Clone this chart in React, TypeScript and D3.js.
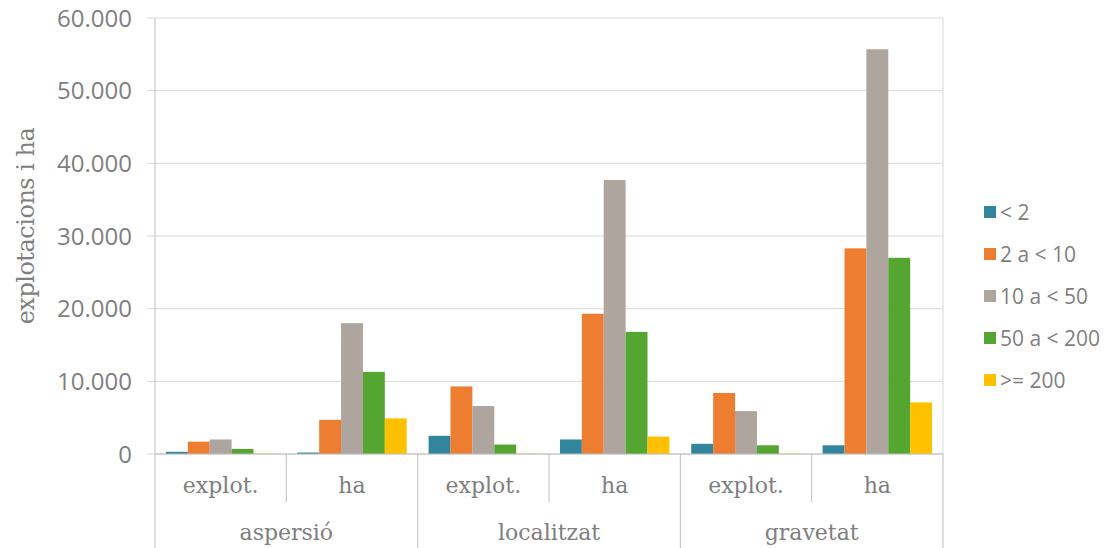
import React from 'react';
import * as d3 from 'd3';

const groups = ['aspersió', 'localitzat', 'gravetat'];
const subs = ['explot.', 'ha'];
const series = ['< 2', '2 a < 10', '10 a < 50', '50 a < 200', '>= 200'];
const colors = ['#31859c', '#ed7d31', '#aea59f', '#55a630', '#ffc000'];

// one value per group/sub pair, in the order of groups x subs
const lt2 = [300, 200, 2500, 2000, 1400, 1200];
const b2to10 = [1700, 4700, 9300, 19300, 8400, 28300];
const b10to50 = [2000, 18000, 6600, 37700, 5900, 55700];
const b50to200 = [700, 11300, 1300, 16800, 1200, 27000];
const ge200 = [50, 4900, 50, 2400, 50, 7100];
const yTicks = [0, 10000, 20000, 30000, 40000, 50000, 60000];

const W = 1116;
const H = 548;
const left = 155;
const right = 943;
const top = 18;
const bottom = 454;
const grey = '#7f7f7f';
const sans = "'Open Sans', Lato, sans-serif";
const serif = "'DejaVu Serif', serif";

const fmt = (v: number) => d3.format(',')(v).replace(/,/g, '.');

const App: React.FC = () => {
  const values = [lt2, b2to10, b10to50, b50to200, ge200];
  const cats = groups.flatMap((g) => subs.map((s) => `${g}|${s}`));
  const x = d3.scaleBand<string>().domain(cats).range([left, right]);
  const xs = d3.scaleBand<string>().domain(series).range([0, x.bandwidth()]).paddingInner(0).paddingOuter(0.5);
  const y = d3.scaleLinear().domain([0, 60000]).range([bottom, top]);
  const gw = x.bandwidth() * 2;

  return (
    <svg width={W} height={H} style={{ position: 'absolute', left: 0, top: 0 }}>
      <rect width={W} height={H} fill="#fff" />
      {yTicks.map((t) => (
        <g key={t}>
          <line x1={left - 8} x2={right} y1={y(t)} y2={y(t)} stroke="#d9d9d9" strokeWidth={1} />
          <text x={132} y={y(t)} dy="0.36em" textAnchor="end" fontFamily={sans} fontSize={24} fill={grey}>
            {fmt(t)}
          </text>
        </g>
      ))}
      <line x1={right} x2={right} y1={top} y2={bottom} stroke="#d9d9d9" />
      {cats.map((c, ci) =>
        series.map((s, si) => {
          const v = values[si][ci];
          return (
            <rect
              key={c + s}
              x={(x(c) || 0) + (xs(s) || 0)}
              width={xs.bandwidth()}
              y={y(v)}
              height={bottom - y(v)}
              fill={colors[si]}
            />
          );
        })
      )}
      <line x1={left} x2={left} y1={top} y2={H} stroke="#bfbfbf" />
      <line x1={left} x2={right} y1={bottom} y2={bottom} stroke="#bfbfbf" />
      {cats.map((c, ci) => (
        <g key={c}>
          <text x={(x(c) || 0) + x.bandwidth() / 2} y={493} textAnchor="middle" fontFamily={serif} fontSize={22} fill={grey}>
            {c.split('|')[1]}
          </text>
          {ci % 2 === 1 && <line x1={x(c) || 0} x2={x(c) || 0} y1={bottom} y2={502} stroke="#bfbfbf" />}
        </g>
      ))}
      {groups.map((g, gi) => (
        <g key={g}>
          <text x={left + gw * gi + gw / 2} y={540} textAnchor="middle" fontFamily={serif} fontSize={22} fill={grey}>
            {g}
          </text>
          <line x1={left + gw * (gi + 1)} x2={left + gw * (gi + 1)} y1={bottom} y2={H} stroke="#bfbfbf" />
        </g>
      ))}
      <text
        transform="translate(34,226) rotate(-90)"
        textAnchor="middle"
        fontFamily={serif}
        fontSize={24}
        letterSpacing={-0.5}
        fill={grey}
      >
        explotacions i ha
      </text>
      {series.map((s, i) => (
        <g key={s} transform={`translate(984,${212 + i * 42})`}>
          <rect x={0} y={-6} width={12} height={12} fill={colors[i]} />
          <text x={16} y={0} dy="0.36em" fontFamily={sans} fontSize={21} fill={grey}>
            {s}
          </text>
        </g>
      ))}
    </svg>
  );
};

export default App;
